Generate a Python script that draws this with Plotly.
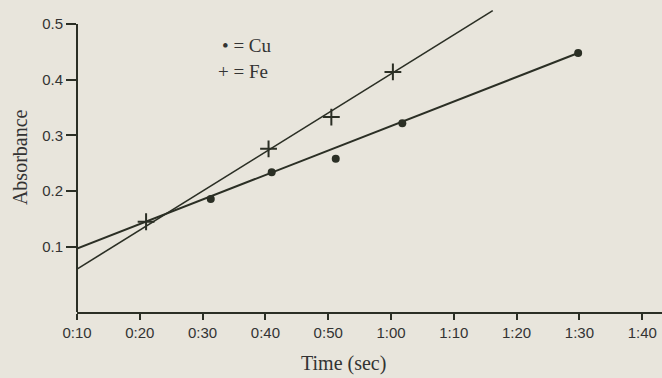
import plotly.graph_objects as go

# ---- data (time in seconds, absorbance) ----
tick_vals = [10, 20, 30, 40, 50, 60, 70, 80, 90, 100]
tick_text = ["0:10", "0:20", "0:30", "0:40", "0:50", "1:00", "1:10", "1:20", "1:30", "1:40"]
y_tick_vals = [0.1, 0.2, 0.3, 0.4, 0.5]
y_tick_text = ["0.1", "0.2", "0.3", "0.4", "0.5"]

cu_time = [31.3, 41.0, 51.2, 61.8, 89.8]
cu_abs = [0.186, 0.234, 0.258, 0.322, 0.448]
fe_time = [21.0, 40.5, 50.5, 60.3]
fe_abs = [0.145, 0.276, 0.333, 0.414]

cu_fit_time = [10, 89.8]
cu_fit_abs = [0.097, 0.448]
fe_fit_time = [10, 76.2]
fe_fit_abs = [0.060, 0.524]

ink = "#2b2f25"
paper = "#e8e5dc"
serif = "Liberation Serif"
sans = "Liberation Sans"

fig = go.Figure()
fig.add_trace(go.Scatter(x=cu_fit_time, y=cu_fit_abs, mode="lines",
                         line=dict(color=ink, width=2), hoverinfo="skip"))
fig.add_trace(go.Scatter(x=fe_fit_time, y=fe_fit_abs, mode="lines",
                         line=dict(color=ink, width=1.6), hoverinfo="skip"))
fig.add_trace(go.Scatter(x=cu_time, y=cu_abs, mode="markers", name="Cu",
                         marker=dict(symbol="circle", size=8, color=ink)))
fig.add_trace(go.Scatter(x=fe_time, y=fe_abs, mode="markers", name="Fe",
                         marker=dict(symbol="cross-thin", size=12,
                                     line=dict(color=ink, width=2))))

y_min = -0.017
fig.update_layout(
    width=662, height=378,
    margin=dict(l=77, r=0, t=7, b=66),
    paper_bgcolor=paper, plot_bgcolor=paper,
    showlegend=False,
    font=dict(family=sans, size=15, color="#333333"),
    xaxis=dict(range=[10, 103.15], tickmode="array", tickvals=tick_vals,
               ticktext=tick_text, showgrid=False, zeroline=False,
               showline=True, linecolor=ink, linewidth=2,
               ticks="outside", ticklen=6, tickwidth=1.5, tickcolor=ink,
               tickfont=dict(family=sans, size=15, color="#333333")),
    yaxis=dict(range=[y_min, 0.5306], tickmode="array", tickvals=y_tick_vals,
               ticktext=y_tick_text, showgrid=False, zeroline=False,
               showline=False,
               ticks="outside", ticklen=10, tickwidth=1.5, tickcolor=ink,
               tickfont=dict(family=sans, size=15, color="#333333")),
    shapes=[dict(type="line", xref="paper", yref="y", x0=0, x1=0,
                 y0=y_min, y1=0.5, line=dict(color=ink, width=2))],
    annotations=[
        dict(text="Absorbance", x=-0.0974, y=0.508, xref="paper", yref="paper",
             xanchor="center", yanchor="middle",
             textangle=-90, showarrow=False,
             font=dict(family=serif, size=20, color="#333333")),
        dict(text="Time (sec)", x=0.456, y=-0.170, xref="paper", yref="paper",
             xanchor="center", yanchor="middle",
             showarrow=False, font=dict(family=serif, size=20, color="#333333")),
        dict(text="\u2022 = Cu", x=0.2444, y=0.875, xref="paper", yref="paper",
             xanchor="left", yanchor="middle", showarrow=False,
             font=dict(family=serif, size=19, color="#333333")),
        dict(text="+ = Fe", x=0.2376, y=0.790, xref="paper", yref="paper",
             xanchor="left", yanchor="middle", showarrow=False,
             font=dict(family=serif, size=19, color="#333333")),
    ],
)

fig.write_html("out.html")
